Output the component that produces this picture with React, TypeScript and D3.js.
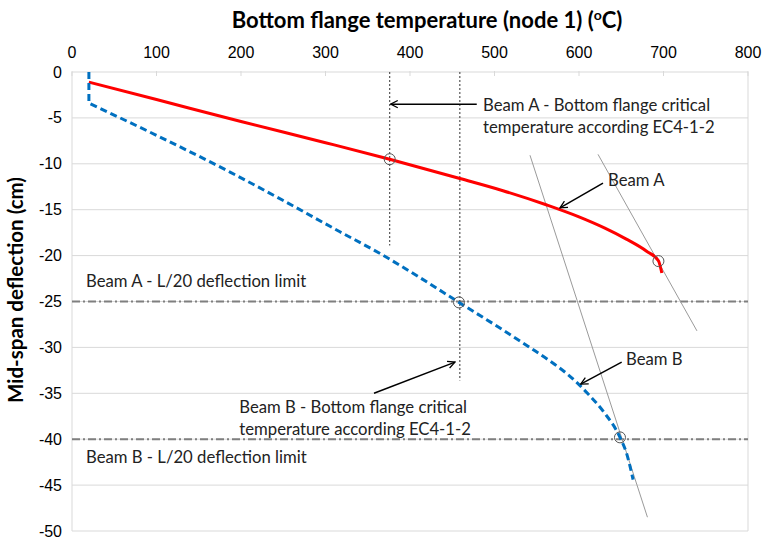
import React from 'react';
import * as d3 from 'd3';

// temperature (oC), mid-span deflection (cm)
const beamA: [number, number][] = [
  [20, -1.1], [100, -3.0], [200, -5.4], [300, -7.7], [376, -9.5], [459, -11.6],
  [510, -12.93], [562, -14.49], [600, -15.78], [630, -16.98], [656, -18.2], [680, -19.52],
  [694, -20.57], [698, -21.9],
];
const beamB: [number, number][] = [
  [20, 0], [20, -3.4], [100, -6.9], [187, -10.9], [250, -14.0], [317, -17.4], [365, -19.8],
  [410, -22.3], [458, -25.1], [510, -28.1], [540, -29.9], [569, -31.7], [590, -33.2],
  [610, -35.0], [629, -37.0], [648.5, -39.8], [656.5, -41.6], [664, -44.4],
];
const xTicks = [0, 100, 200, 300, 400, 500, 600, 700, 800];
const yTicks = [0, -5, -10, -15, -20, -25, -30, -35, -40, -45, -50];
const limits = [-25, -40];
const criticalTemps: [number, number][] = [[376, -18.9], [459, -33.6]]; // temp, lower end
const guideLines: [number, number, number, number][] = [
  [542, -9.07, 681, -48.5],
  [622.5, -8.97, 739.6, -28.2],
];
const markers: [number, number][] = [[376, -9.5], [694, -20.6], [458, -25.1], [648.5, -39.8]];
const arrows: [number, number, number, number][] = [
  [479, -3.5, 377, -3.5],
  [628.4, -12.1, 577.5, -14.8],
  [650.5, -31.6, 602, -34.0],
  [357.4, -35.0, 453.3, -31.6],
];
const notes: { t: number; d: number; lines: string[] }[] = [
  { t: 486.4, d: -4.25, lines: ['Beam A - Bottom flange critical', 'temperature according EC4-1-2'] },
  { t: 198, d: -37.2, lines: ['Beam B - Bottom flange critical', 'temperature according EC4-1-2'] },
  { t: 634.3, d: -12.45, lines: ['Beam A'] },
  { t: 655.6, d: -31.95, lines: ['Beam B'] },
  { t: 16.6, d: -23.45, lines: ['Beam A - L/20 deflection limit'] },
  { t: 16.6, d: -42.6, lines: ['Beam B - L/20 deflection limit'] },
];

const W = 764;
const H = 539;

export default function App() {
  const x = d3.scaleLinear().domain([0, 800]).range([72, 748]);
  const y = d3.scaleLinear().domain([0, -50]).range([72, 531]);

  const curve = d3.line<[number, number]>()
    .x(d => x(d[0]))
    .y(d => y(d[1]))
    .curve(d3.curveMonotoneX);
  const pathA = curve(beamA) || '';
  // first point of beam B sits straight above the second, keep that bit linear
  const pathB = `M${x(beamB[0][0])},${y(beamB[0][1])}` + (curve(beamB.slice(1)) || '').replace(/^M/, 'L');

  const noteFont = 'Lato, "Open Sans", sans-serif';

  return (
    <svg width={W} height={H} style={{ position: 'absolute', left: 0, top: 0, background: '#fff' }}>
      <defs>
        <marker id="arr" viewBox="0 0 10 10" refX="9" refY="5" markerWidth="9" markerHeight="9"
          markerUnits="userSpaceOnUse" orient="auto">
          <path d="M1,1 L9,5 L1,9" fill="none" stroke="#000" strokeWidth={1.4} />
        </marker>
      </defs>

      {/* grid */}
      {yTicks.map(t => (
        <line key={'g' + t} x1={x(0)} x2={x(800)} y1={y(t)} y2={y(t)} stroke="#d9d9d9" strokeWidth={1} />
      ))}
      <line x1={x(0)} x2={x(0)} y1={y(0)} y2={y(-50)} stroke="#d9d9d9" />
      <line x1={x(800)} x2={x(800)} y1={y(0)} y2={y(-50)} stroke="#d9d9d9" />
      {xTicks.map(t => (
        <line key={'tk' + t} x1={x(t)} x2={x(t)} y1={y(0) - 1} y2={y(0) + 4} stroke="#d9d9d9" />
      ))}

      {/* axis labels */}
      {xTicks.map(t => (
        <text key={'xl' + t} x={x(t)} y={58} textAnchor="middle" fontFamily="'Liberation Sans', Arial, sans-serif"
          fontSize={16} fill="#000">{t}</text>
      ))}
      {yTicks.map(t => (
        <text key={'yl' + t} x={62} y={y(t) + 5.5} textAnchor="end" fontFamily="'Liberation Sans', Arial, sans-serif"
          fontSize={16} fill="#000">{t}</text>
      ))}
      <text x={427} y={28} textAnchor="middle" fontFamily={noteFont} fontWeight="bold" fontSize={22} fill="#000">
        Bottom flange temperature (node 1) (<tspan fontSize={14} dy={-8}>o</tspan><tspan dy={8}>C)</tspan>
      </text>
      <text transform="translate(23,290) rotate(-90)" textAnchor="middle" fontFamily={noteFont}
        fontWeight="bold" fontSize={20.5} fill="#000">Mid-span deflection (cm)</text>

      {/* deflection limits */}
      {limits.map(l => (
        <line key={'lim' + l} x1={x(0)} x2={x(800)} y1={y(l)} y2={y(l)} stroke="#7f7f7f" strokeWidth={2}
          strokeDasharray="8,3,2,3" />
      ))}

      {/* critical temperatures */}
      {criticalTemps.map(([t, lo]) => (
        <line key={'ct' + t} x1={x(t)} x2={x(t)} y1={y(0)} y2={y(lo)} stroke="#333" strokeWidth={1}
          strokeDasharray="2,2" />
      ))}

      {guideLines.map((g, i) => (
        <line key={'gl' + i} x1={x(g[0])} y1={y(g[1])} x2={x(g[2])} y2={y(g[3])} stroke="#9a9a9a" strokeWidth={1} />
      ))}

      <path d={pathA} fill="none" stroke="#ff0000" strokeWidth={3} />
      <path d={pathB} fill="none" stroke="#0070c0" strokeWidth={3} strokeDasharray="7,4" />

      {markers.map((m, i) => (
        <circle key={'m' + i} cx={x(m[0])} cy={y(m[1])} r={5.5} fill="none" stroke="#555" strokeWidth={1} />
      ))}

      {arrows.map((a, i) => (
        <line key={'a' + i} x1={x(a[0])} y1={y(a[1])} x2={x(a[2])} y2={y(a[3])} stroke="#000" strokeWidth={1.5}
          markerEnd="url(#arr)" />
      ))}

      {notes.map((n, i) => (
        <text key={'n' + i} x={x(n.t)} y={y(n.d)} fontFamily={noteFont} fontSize={16.7} fill="#222">
          {n.lines.map((s, j) => (
            <tspan key={j} x={x(n.t)} dy={j === 0 ? 0 : 22}>{s}</tspan>
          ))}
        </text>
      ))}
    </svg>
  );
}
